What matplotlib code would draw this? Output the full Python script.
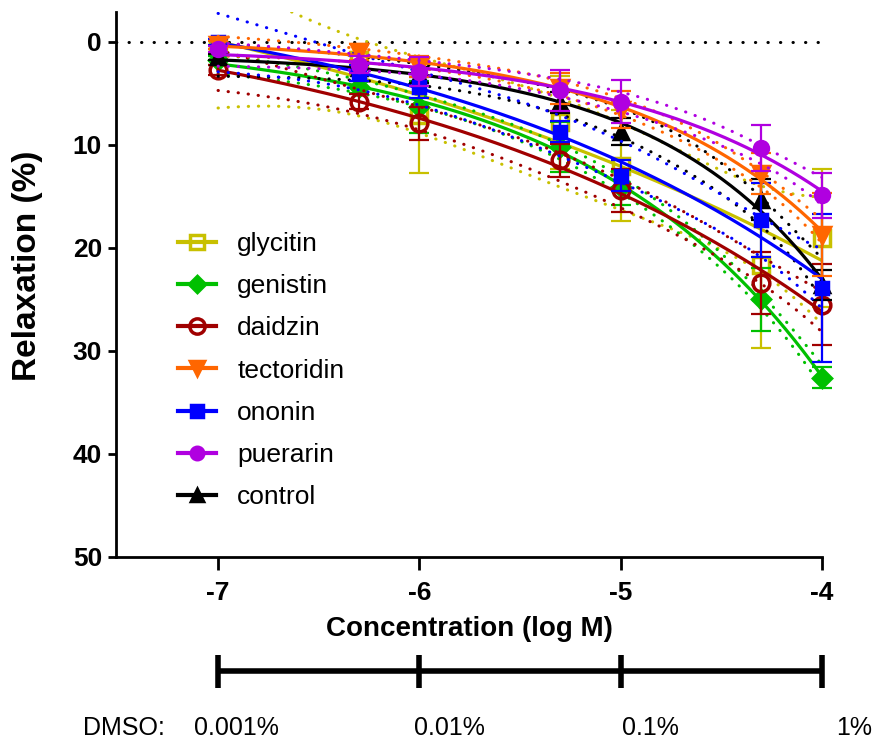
import numpy as np
import matplotlib
matplotlib.use("Agg")
import matplotlib.pyplot as plt
from matplotlib.lines import Line2D

plt.rcParams['font.family'] = ['Liberation Sans', 'DejaVu Sans']

# log molar concentration of each addition
log_conc = np.array([-7, -6.301, -6, -5.301, -5, -4.301, -4])
tick_conc = [-7, -6, -5, -4]
dmso_labels = ['0.001%', '0.01%', '0.1%', '1%']

names = ['glycitin', 'genistin', 'daidzin', 'tectoridin', 'ononin', 'puerarin', 'control']

glycitin = [0.5, 1.8, 7.1, 7.8, 12.0, 21.7, 19.0]
glycitin_err = [0.6, 0.8, 5.6, 4.5, 5.4, 8.0, 6.7]
genistin = [1.8, 4.4, 6.3, 10.2, 14.1, 25.0, 32.6]
genistin_err = [0.4, 0.6, 2.5, 2.4, 1.7, 3.1, 1.0]
daidzin = [2.7, 5.8, 7.9, 11.5, 14.4, 23.4, 25.5]
daidzin_err = [0.5, 0.7, 1.6, 1.6, 2.1, 3.0, 3.9]
tectoridin = [0.3, 1.0, 2.4, 4.5, 6.6, 12.8, 18.7]
tectoridin_err = [0.4, 0.8, 1.0, 1.5, 1.8, 2.0, 4.0]
ononin = [0.0, 3.0, 4.4, 8.7, 13.0, 17.3, 23.9]
ononin_err = [0.3, 0.8, 1.0, 1.0, 1.5, 3.6, 7.2]
puerarin = [0.7, 2.2, 2.9, 4.7, 5.8, 10.3, 14.9]
puerarin_err = [0.3, 0.8, 1.4, 2.0, 2.1, 2.2, 2.2]
control = [1.5, 2.5, 3.2, 5.9, 8.7, 15.3, 23.6]
control_err = [0.3, 0.5, 0.8, 1.0, 1.3, 2.0, 1.5]

values = [glycitin, genistin, daidzin, tectoridin, ononin, puerarin, control]
errors = [glycitin_err, genistin_err, daidzin_err, tectoridin_err, ononin_err, puerarin_err, control_err]

colors = ['#c8c000', '#00c000', '#a00000', '#ff6600', '#0000ff', '#b000e0', '#000000']
markers = ['s', 'D', 'o', 'v', 's', 'o', '^']
msizes = [11, 9, 12, 11, 9, 10, 10]
hollow = [True, False, True, False, False, False, False]
draw_order = [0, 1, 2, 6, 4, 3, 5]


def fit_band(x, y, t=2.776):
    '''fit y = a + b*10^(k*(x+4)), return curve and 95% confidence band'''
    best = None
    for k in np.linspace(0.05, 1.5, 500):
        E = 10 ** (k * (x + 4))
        A = np.column_stack([np.ones_like(x), E])
        coef = np.linalg.lstsq(A, y, rcond=None)[0]
        r = np.sum((A @ coef - y) ** 2)
        if best is None or r < best[0]:
            best = (r, k, coef)
    r, k, (a, b) = best

    def jac(xx):
        E = 10 ** (k * (xx + 4))
        return np.column_stack([np.ones_like(xx), E, b * np.log(10) * (xx + 4) * E]), E

    J, _ = jac(x)
    cov = r / (len(x) - 3) * np.linalg.inv(J.T @ J)
    xs = np.linspace(x.min(), x.max(), 200)
    Js, Es = jac(xs)
    yfit = a + b * Es
    se = np.sqrt(np.einsum('ij,jk,ik->i', Js, cov, Js))
    return xs, yfit, yfit - t * se, yfit + t * se


fig = plt.figure(figsize=(8.75, 7.44), dpi=100)
ax = fig.add_axes([116 / 875, 1 - 557 / 744, 706 / 875, 545 / 744])

ax.axhline(0, color='k', ls=(0, (0.1, 4)), lw=2.2, dash_capstyle='round', zorder=1)

dots = (0, (0.1, 3.2))
for k, i in enumerate(draw_order):
    y = np.array(values[i], dtype=float)
    c = colors[i]
    z = 2 + k
    xs, yfit, lo, hi = fit_band(log_conc, y)
    ax.plot(xs, yfit, color=c, lw=2.3, zorder=z)
    ax.plot(xs, lo, color=c, lw=2.2, ls=dots, dash_capstyle='round', zorder=z)
    ax.plot(xs, hi, color=c, lw=2.2, ls=dots, dash_capstyle='round', zorder=z)
    ax.errorbar(log_conc, y, yerr=errors[i], fmt='none', ecolor=c, elinewidth=1.6,
                capsize=7, capthick=1.6, clip_on=False, zorder=z)
    ax.plot(log_conc, y, ls='none', marker=markers[i], ms=msizes[i], color=c,
            mfc='none' if hollow[i] else c, mew=2.5, clip_on=False, zorder=z + 0.5)

ax.set_xlim(-7.507, -4.0)
ax.set_ylim(50, -2.9)
ax.set_xticks(tick_conc)
ax.set_xticklabels([str(t) for t in tick_conc])
ax.set_yticks([0, 10, 20, 30, 40, 50])
for s in ['top', 'right']:
    ax.spines[s].set_visible(False)
for s in ['left', 'bottom']:
    ax.spines[s].set_linewidth(2.0)
ax.tick_params(axis='x', length=9, width=2.0, labelsize=19, pad=8)
ax.tick_params(axis='y', length=6, width=2.0, labelsize=19, pad=4)
for lab in ax.get_xticklabels() + ax.get_yticklabels():
    lab.set_fontweight('bold')

ax.set_xlabel('Concentration (log M)', fontsize=20, fontweight='bold', labelpad=8)
ax.set_ylabel('Relaxation (%)', fontsize=24, fontweight='bold')
ax.yaxis.set_label_coords(-0.104, 0.534)

handles = [Line2D([], [], color=colors[i], lw=3, marker=markers[i], ms=msizes[i] - 1,
                  mfc='none' if hollow[i] else colors[i], mew=2.5) for i in range(7)]
ax.legend(handles, names, loc='upper left', bbox_to_anchor=(178 / 875, 1 - 232 / 744),
          bbox_transform=fig.transFigure, frameon=False, fontsize=19, borderpad=0,
          borderaxespad=0, handlelength=1.45, handletextpad=0.8, labelspacing=0.69)

# DMSO scale underneath, in pixel rows
bx = fig.add_axes([116 / 875, 0, 706 / 875, 110 / 744])
bx.set_xlim(-7.507, -4.0)
bx.set_ylim(744, 634)
bx.axis('off')
bx.hlines(671, tick_conc[0], tick_conc[-1], color='k', lw=4, clip_on=False)
bx.vlines(tick_conc, 655, 688, color='k', lw=4, clip_on=False)
bx.text(-7.47, 728, 'DMSO:', fontsize=18, ha='center', va='center')
offsets = [0.09, 0.15, 0.15, 0.16]
for t, lab, off in zip(tick_conc, dmso_labels, offsets):
    bx.text(t + off, 728, lab, fontsize=18, ha='center', va='center', clip_on=False)

fig.savefig('out.png', dpi=100)
